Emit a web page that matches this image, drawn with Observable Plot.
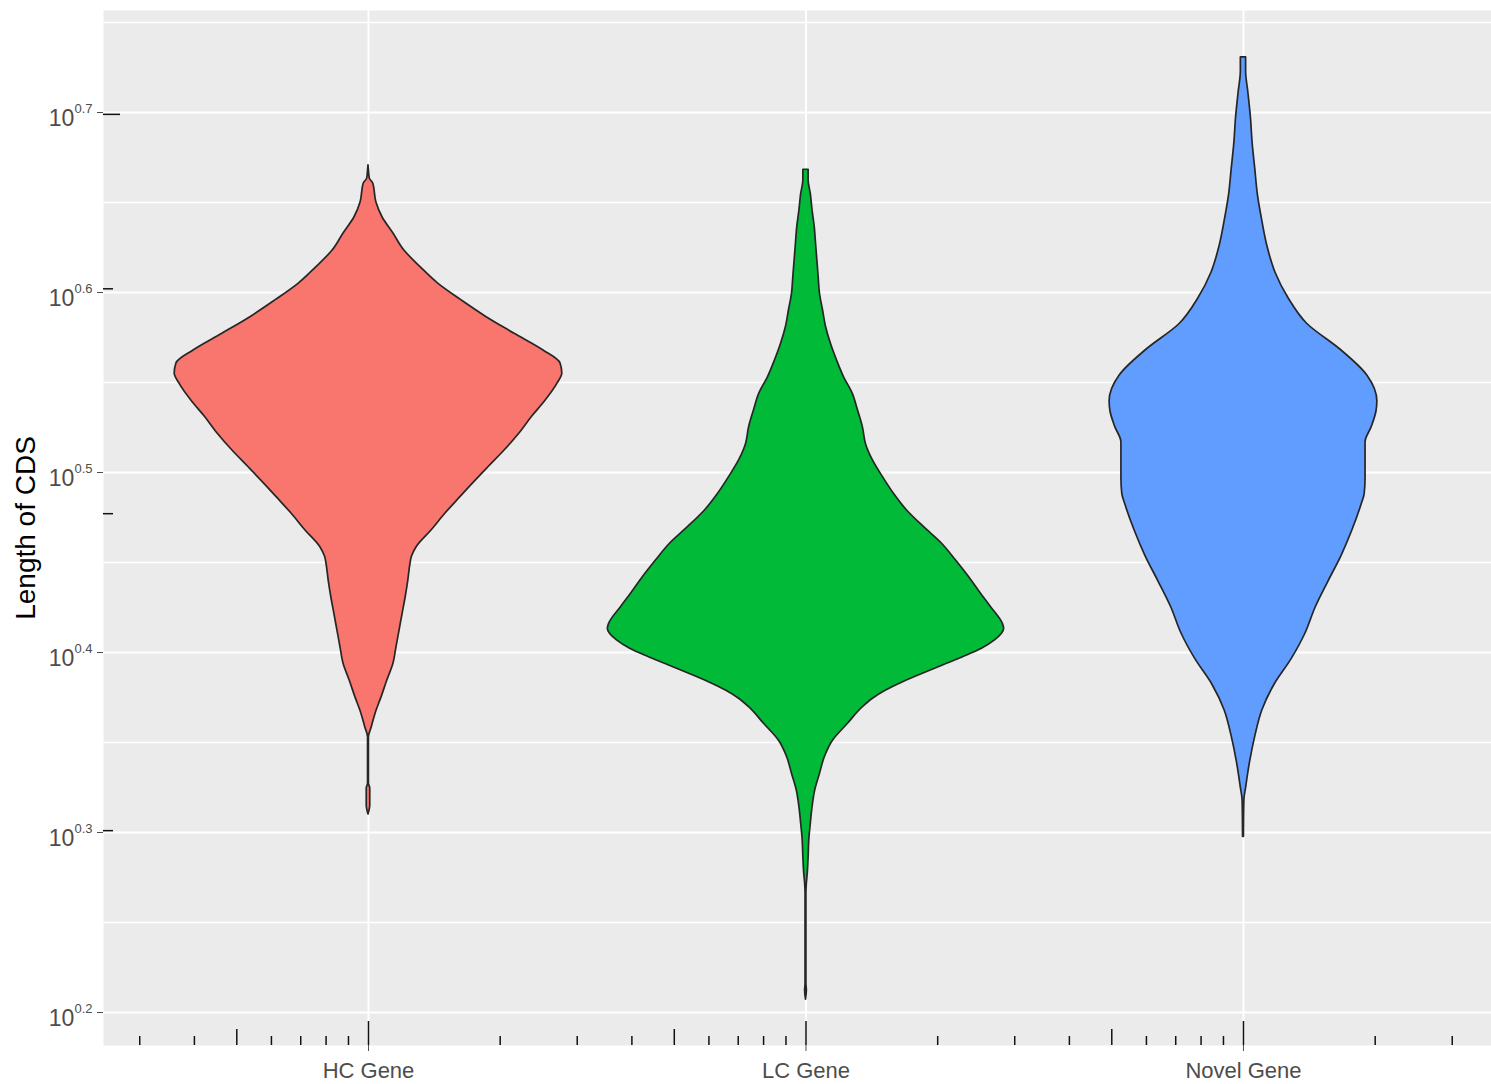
<!DOCTYPE html>
<html><head><meta charset="utf-8">
<script src="https://cdn.jsdelivr.net/npm/d3@7"></script>
<script src="https://cdn.jsdelivr.net/npm/@observablehq/plot@0.6"></script>
<style>body{margin:0;background:#fff} svg{display:block}</style>
</head><body><div id="chart"></div>
<script>
// ---- data ----
const categories = ["HC Gene", "LC Gene", "Novel Gene"];
const fills = ["#F8766D", "#00BA38", "#619CFF"];

// violin outlines: log10(length) level and half-width (x units)
const hcExp = [0.6706,0.6678,0.6633,0.6604,0.6502,0.6418,0.6328,0.6233,0.6141,0.6048,0.5956,0.5863,0.5771,0.5678,0.5606,0.5550,0.5494,0.5400,0.5307,0.5217,0.5122,0.5029,0.4937,0.4863,0.4772,0.4678,0.4585,0.4530,0.4493,0.4400,0.4307,0.4215,0.4122,0.4029,0.3937,0.3844,0.3752,0.3659,0.3585,0.3529,0.3272,0.3244,0.3150,0.3100];
const hcHalf = [0,0.001,0.003,0.011,0.018,0.032,0.057,0.082,0.119,0.160,0.213,0.270,0.334,0.400,0.439,0.443,0.432,0.405,0.373,0.345,0.311,0.274,0.238,0.210,0.176,0.144,0.110,0.099,0.096,0.091,0.085,0.078,0.071,0.064,0.057,0.043,0.030,0.016,0.0075,0.001,0.001,0.004,0.004,0];

const lcExp = [0.6682,0.6622,0.6548,0.6456,0.6363,0.6271,0.6178,0.6085,0.5993,0.5900,0.5807,0.5715,0.5622,0.5529,0.5437,0.5344,0.5252,0.5159,0.5067,0.4974,0.4882,0.4789,0.4696,0.4604,0.4511,0.4418,0.4326,0.4252,0.4159,0.4132,0.4067,0.4021,0.3974,0.3928,0.3882,0.3835,0.3789,0.3743,0.3696,0.3604,0.3511,0.3418,0.3326,0.3233,0.3141,0.3048,0.2956,0.2863,0.2770,0.2717,0.2661,0.2161,0.2122,0.2071];
const lcHalf = [0.006,0.006,0.011,0.015,0.020,0.023,0.026,0.029,0.032,0.039,0.046,0.057,0.071,0.087,0.107,0.119,0.130,0.137,0.153,0.176,0.201,0.231,0.270,0.311,0.343,0.373,0.400,0.423,0.450,0.453,0.432,0.402,0.359,0.313,0.267,0.222,0.183,0.153,0.130,0.096,0.062,0.043,0.032,0.021,0.015,0.011,0.0075,0.006,0.004,0.002,0.001,0.001,0.002,0];

const novExp = [0.7306,0.7228,0.7114,0.6971,0.6827,0.6684,0.6541,0.6398,0.6254,0.6111,0.5968,0.5825,0.5682,0.5539,0.5396,0.5339,0.5252,0.5167,0.4967,0.4880,0.4822,0.4679,0.4536,0.4393,0.4250,0.4107,0.3963,0.3821,0.3678,0.3534,0.3391,0.3248,0.3178,0.2976];
const novHalf = [0.006,0.006,0.011,0.017,0.021,0.027,0.033,0.043,0.055,0.073,0.103,0.146,0.222,0.283,0.306,0.304,0.293,0.279,0.279,0.277,0.270,0.249,0.224,0.194,0.165,0.142,0.110,0.071,0.043,0.027,0.015,0.006,0.002,0.001];

// axis ticks (log10 exponents)
const yMajor = [0.2, 0.3, 0.4, 0.5, 0.6, 0.7];
const yMinor = [0.25, 0.35, 0.45, 0.55, 0.65, 0.75];
const yTickLabels = ["0.2", "0.3", "0.4", "0.5", "0.6", "0.7"];
const yLabel = "Length of CDS";

// annotation log ticks
const logShortY = [Math.log10(2), Math.log10(3), Math.log10(4)];
const logMidY = [Math.log10(5)];
const logShortX = [], logMidX = [], logLongX = [1, 2, 3];
for (const dec of [0, 1, 2, 3]) {
  for (const k of [2, 3, 4, 6, 7, 8, 9]) logShortX.push(dec + Math.log10(k));
  logMidX.push(dec + Math.log10(5));
}

// ---- build table ----
const rows = [];
[[hcExp, hcHalf], [lcExp, lcHalf], [novExp, novHalf]].forEach(([e, h], i) => {
  e.forEach((v, j) => rows.push({cat: categories[i], pos: i + 1, exp: v, hw: h[j]}));
});

const W = 1491, H = 1084, mL = 103, mR = 0, mT = 10, mB = 39;
const panelH = H - mT - mB, panelW = W - mL - mR;
const xDom = [0.3943, 3.5669];
const yDom = [0.18167, 0.75667];
const inX = d => d >= xDom[0] && d <= xDom[1];

const chart = Plot.plot({
  width: W, height: H,
  marginLeft: mL, marginRight: mR, marginTop: mT, marginBottom: mB,
  style: {fontFamily: "'Liberation Sans', Arial, sans-serif", background: "#fff", overflow: "visible"},
  x: {domain: xDom},
  y: {domain: yDom},
  color: {domain: categories, range: fills},
  marks: [
    Plot.frame({fill: "#EBEBEB", stroke: null}),
    Plot.ruleY(yMinor, {stroke: "#fff", strokeWidth: 1.3}),
    Plot.ruleY(yMajor, {stroke: "#fff", strokeWidth: 2}),
    Plot.ruleX([1, 2, 3], {stroke: "#fff", strokeWidth: 2}),
    Plot.areaX(rows, {
      y: "exp", x1: d => d.pos - d.hw, x2: d => d.pos + d.hw,
      z: "cat", fill: "cat", stroke: "#262626", strokeWidth: 1.7,
      curve: "monotone-y"
    }),
    // log ticks along the bottom
    Plot.ruleX(logShortX.filter(inX), {stroke: "#111", strokeWidth: 1.5, insetTop: panelH - 9}),
    Plot.ruleX(logMidX.filter(inX), {stroke: "#111", strokeWidth: 1.5, insetTop: panelH - 16}),
    Plot.ruleX(logLongX, {stroke: "#111", strokeWidth: 1.5, insetTop: panelH - 24}),
    // log ticks along the left
    Plot.ruleY(logShortY, {stroke: "#111", strokeWidth: 1.5, insetRight: panelW - 10}),
    Plot.ruleY(logMidY, {stroke: "#111", strokeWidth: 1.5, insetRight: panelW - 17}),
    Plot.axisY(yMajor, {tickSize: 6, tickPadding: 5, fontSize: 23, color: "#4D4D4D",
      tickFormat: d => yTickLabels[yMajor.indexOf(d)], label: null}),
    Plot.axisX([1, 2, 3], {tickSize: 6, tickPadding: 11, fontSize: 22, color: "#4D4D4D",
      tickFormat: d => categories[d - 1], label: null}),
    Plot.text([yLabel], {frameAnchor: "left", dx: -77, rotate: -90, textAnchor: "middle",
      fontSize: 28, fill: "#000", text: d => d})
  ]
});

// superscript exponents for y tick labels: 10^x
chart.querySelectorAll('[aria-label="y-axis tick label"] text').forEach(t => {
  const ex = t.textContent;
  t.textContent = "";
  t.removeAttribute("dy");
  t.setAttribute("y", "13");
  const base = document.createElementNS("http://www.w3.org/2000/svg", "tspan");
  base.textContent = "10";
  const sup = document.createElementNS("http://www.w3.org/2000/svg", "tspan");
  sup.setAttribute("dy", "-13");
  sup.setAttribute("font-size", "13");
  sup.textContent = ex;
  t.appendChild(base);
  t.appendChild(sup);
});

document.getElementById("chart").appendChild(chart);
</script>
</body></html>
